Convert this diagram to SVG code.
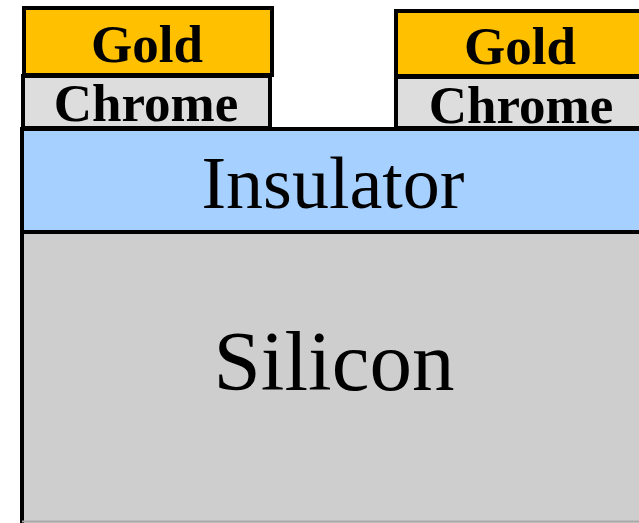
<svg xmlns="http://www.w3.org/2000/svg" width="639" height="523" viewBox="0 0 639 523">
<style>
.l{stroke:#000;stroke-width:4}
.b{font-family:"Liberation Serif",serif;font-weight:bold;font-size:53px;text-anchor:middle;fill:#000}
.n{font-family:"Liberation Serif",serif;text-anchor:middle;fill:#000}
</style>
<rect width="639" height="523" fill="#fff"/>
<g id="silicon">
<rect class="l" x="22" y="232" width="640" height="300" fill="#cecece"/>
<line x1="22" y1="521.5" x2="639" y2="521.5" stroke="#aaa" stroke-width="2"/>
<text class="n" x="334" y="390" font-size="85">Silicon</text>
</g>
<g id="insulator">
<rect class="l" x="22" y="129" width="640" height="103" fill="#a6d0ff"/>
<text class="n" x="333" y="208" font-size="74">Insulator</text>
</g>
<g id="chrome-left">
<rect class="l" x="23" y="76" width="247" height="52" fill="#dddddd"/>
<text class="b" x="146" y="121">Chrome</text>
</g>
<g id="gold-left">
<rect class="l" x="24" y="8" width="248" height="67" fill="#ffc000"/>
<text class="b" x="147" y="62">Gold</text>
</g>
<g id="chrome-right">
<rect class="l" x="396" y="77" width="260" height="51" fill="#dddddd"/>
<text class="b" x="521" y="123">Chrome</text>
</g>
<g id="gold-right">
<rect class="l" x="396" y="11" width="260" height="65" fill="#ffc000"/>
<text class="b" x="520" y="64">Gold</text>
</g>
</svg>
